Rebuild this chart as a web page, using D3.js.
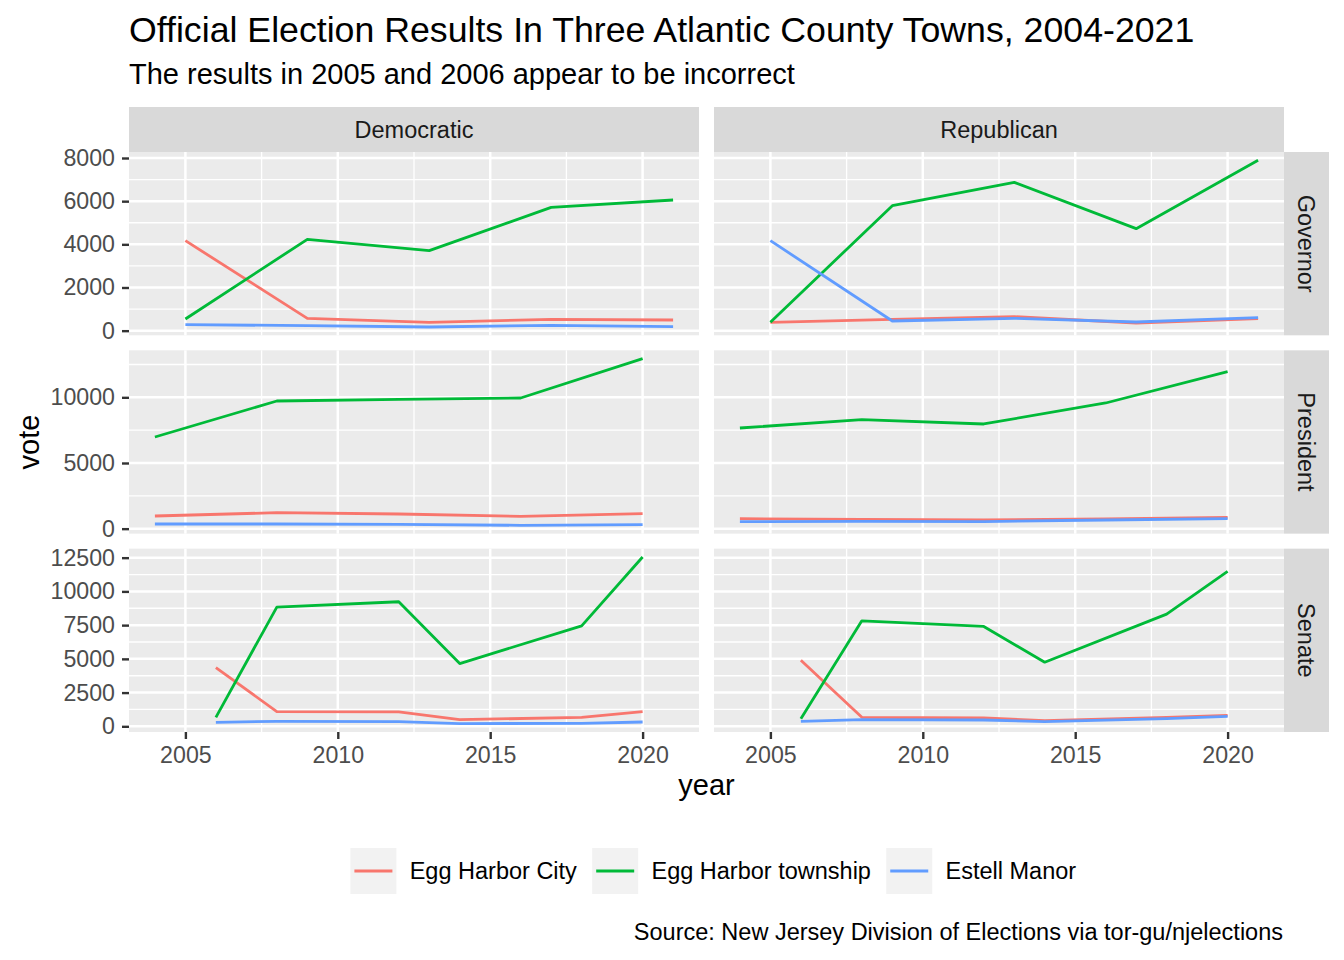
<!DOCTYPE html>
<html><head><meta charset="utf-8">
<script src="https://cdn.jsdelivr.net/npm/d3@7"></script>
<style>body{margin:0;background:#fff} text{font-family:"Liberation Sans",Arial,sans-serif}</style>
</head><body><svg id="c" width="1344" height="960"></svg>
<script>
const towns = ["Egg Harbor City","Egg Harbor township","Estell Manor"];
const parties = ["Democratic","Republican"];
const races = ["Governor","President","Senate"];
const townColors = ["#F8766D","#00BA38","#619CFF"];
const governorYears = [2005,2009,2013,2017,2021];
const presidentYears = [2004,2008,2012,2016,2020];
const senateYears = [2006,2008,2012,2014,2018,2020];

// Governor
const govDemCity   = [4170,571,386,525,494];
const govDemTwp    = [540,4232,3707,5714,6054];
const govDemEstell = [278,232,170,247,185];
const govRepCity   = [386,525,649,355,556];
const govRepTwp    = [386,5792,6873,4726,7892];
const govRepEstell = [4170,448,571,402,602];
// President
const presDemCity   = [964,1218,1117,939,1142];
const presDemTwp    = [6980,9721,9840,9949,12944];
const presDemEstell = [355,355,330,254,305];
const presRepCity   = [761,710,660,736,863];
const presRepTwp    = [7665,8299,7970,9569,11954];
const presRepEstell = [533,558,533,660,761];
// Senate
const senDemCity   = [4356,1089,1064,495,668,1089];
const senDemTwp    = [668,8837,9233,4653,7450,12550];
const senDemEstell = [297,371,347,198,223,322];
const senRepCity   = [4901,668,619,421,668,817];
const senRepTwp    = [569,7822,7401,4752,8317,11485];
const senRepEstell = [371,495,470,347,569,743];

const yTickValues = {
  Governor: [0,2000,4000,6000,8000],
  President: [0,5000,10000],
  Senate: [0,2500,5000,7500,10000,12500]
};
const xTickValues = [2005,2010,2015,2020];

const panelData = {
  Governor: {years: governorYears,
    Democratic: [govDemCity, govDemTwp, govDemEstell],
    Republican: [govRepCity, govRepTwp, govRepEstell]},
  President: {years: presidentYears,
    Democratic: [presDemCity, presDemTwp, presDemEstell],
    Republican: [presRepCity, presRepTwp, presRepEstell]},
  Senate: {years: senateYears,
    Democratic: [senDemCity, senDemTwp, senDemEstell],
    Republican: [senRepCity, senRepTwp, senRepEstell]}
};

const svg = d3.select("#c");
const FONT = '"Liberation Sans",Arial,sans-serif';
const colX = [[129,699],[714,1284]];
const rowTop0 = 152, rowH = 183.33, gap = 15;
const rowY = races.map((r,i)=>[rowTop0 + i*(rowH+gap), rowTop0 + i*(rowH+gap) + rowH]);

const allYears = [...governorYears, ...presidentYears, ...senateYears];
const xmin = d3.min(allYears), xmax = d3.max(allYears);
const xpad = (xmax-xmin)*0.05;
const xScales = colX.map(c => d3.scaleLinear().domain([xmin-xpad, xmax+xpad]).range(c));

const yScales = {};
races.forEach((r,i)=>{
  const vals = [...panelData[r].Democratic.flat(), ...panelData[r].Republican.flat()];
  const mn = d3.min(vals), mx = d3.max(vals), p = (mx-mn)*0.05;
  yScales[r] = d3.scaleLinear().domain([mn-p, mx+p]).range([rowY[i][1], rowY[i][0]]);
});

function minorBreaks(ticks, domain){
  const step = ticks[1]-ticks[0], out=[];
  for (let v = ticks[0]-step/2; v <= ticks[ticks.length-1]+step/2+1e-9; v += step){
    if (v>=domain[0] && v<=domain[1]) out.push(v);
  }
  return out;
}

const line = d3.line();

races.forEach((race, ri)=>{
  const ys = yScales[race];
  parties.forEach((party, ci)=>{
    const xs = xScales[ci];
    const [x0,x1] = colX[ci], [y0,y1] = rowY[ri];
    const g = svg.append("g");
    g.append("rect").attr("x",x0).attr("y",y0).attr("width",x1-x0).attr("height",y1-y0).attr("fill","#EBEBEB");
    minorBreaks(yTickValues[race], ys.domain()).forEach(v=>{
      g.append("line").attr("x1",x0).attr("x2",x1).attr("y1",ys(v)).attr("y2",ys(v)).attr("stroke","#fff").attr("stroke-width",1.3);
    });
    minorBreaks(xTickValues, xs.domain()).forEach(v=>{
      g.append("line").attr("y1",y0).attr("y2",y1).attr("x1",xs(v)).attr("x2",xs(v)).attr("stroke","#fff").attr("stroke-width",1.3);
    });
    yTickValues[race].forEach(v=>{
      g.append("line").attr("x1",x0).attr("x2",x1).attr("y1",ys(v)).attr("y2",ys(v)).attr("stroke","#fff").attr("stroke-width",2.5);
    });
    xTickValues.forEach(v=>{
      g.append("line").attr("y1",y0).attr("y2",y1).attr("x1",xs(v)).attr("x2",xs(v)).attr("stroke","#fff").attr("stroke-width",2.5);
    });
    const yrs = panelData[race].years;
    panelData[race][party].forEach((vals, ti)=>{
      g.append("path").attr("d", line(yrs.map((y,k)=>[xs(y), ys(vals[k])])))
        .attr("fill","none").attr("stroke",townColors[ti]).attr("stroke-width",2.8)
        .attr("stroke-linejoin","round");
    });
  });
  const [y0,y1] = rowY[ri];
  svg.append("rect").attr("x",1284).attr("y",y0).attr("width",45).attr("height",y1-y0).attr("fill","#D9D9D9");
  svg.append("text").attr("transform",`translate(${1306.5},${(y0+y1)/2}) rotate(90)`)
    .attr("text-anchor","middle").attr("dy","0.35em").attr("font-size",23.5).attr("fill","#1A1A1A").text(race);
  const ax = svg.append("g").attr("transform",`translate(${colX[0][0]},0)`)
    .call(d3.axisLeft(ys).tickValues(yTickValues[race]).tickSize(7).tickPadding(7).tickFormat(d3.format("d")));
  ax.select(".domain").remove();
  ax.selectAll("line").attr("stroke","#333").attr("stroke-width",2.4);
  ax.selectAll("text").attr("font-size",23.2).attr("fill","#4D4D4D").attr("font-family",FONT);
});

parties.forEach((p,ci)=>{
  const [x0,x1] = colX[ci];
  svg.append("rect").attr("x",x0).attr("y",107).attr("width",x1-x0).attr("height",45).attr("fill","#D9D9D9");
  svg.append("text").attr("x",(x0+x1)/2).attr("y",129.5).attr("dy","0.35em").attr("text-anchor","middle")
    .attr("font-size",23.5).attr("fill","#1A1A1A").text(p);
  const ax = svg.append("g").attr("transform",`translate(0,${rowY[2][1]})`)
    .call(d3.axisBottom(xScales[ci]).tickValues(xTickValues).tickSize(7).tickPadding(7.5).tickFormat(d3.format("d")));
  ax.select(".domain").remove();
  ax.selectAll("line").attr("stroke","#333").attr("stroke-width",2.4);
  ax.selectAll("text").attr("font-size",23.2).attr("fill","#4D4D4D").attr("font-family",FONT);
});

svg.append("text").attr("x",129).attr("y",41.7).attr("font-size",35.7).attr("fill","#000")
  .text("Official Election Results In Three Atlantic County Towns, 2004-2021");
svg.append("text").attr("x",129).attr("y",84).attr("font-size",29).attr("fill","#000")
  .text("The results in 2005 and 2006 appear to be incorrect");
svg.append("text").attr("x",(colX[0][0]+colX[1][1])/2).attr("y",795).attr("text-anchor","middle")
  .attr("font-size",29).text("year");
svg.append("text").attr("transform",`translate(39,${(rowY[0][0]+rowY[2][1])/2}) rotate(-90)`)
  .attr("text-anchor","middle").attr("font-size",29).text("vote");

let lx = 350.4;
towns.forEach((t,i)=>{
  svg.append("rect").attr("x",lx).attr("y",848).attr("width",46).attr("height",46).attr("fill","#F2F2F2");
  svg.append("line").attr("x1",lx+4).attr("x2",lx+42).attr("y1",871).attr("y2",871)
    .attr("stroke",townColors[i]).attr("stroke-width",2.8);
  const tx = svg.append("text").attr("x",lx+59.3).attr("y",871).attr("dy","0.35em").attr("font-size",23.5).text(t);
  lx = lx + 59.3 + tx.node().getComputedTextLength() + 15.3;
});

svg.append("text").attr("x",1283).attr("y",940).attr("text-anchor","end").attr("font-size",23.5)
  .text("Source: New Jersey Division of Elections via tor-gu/njelections");
</script></body></html>
